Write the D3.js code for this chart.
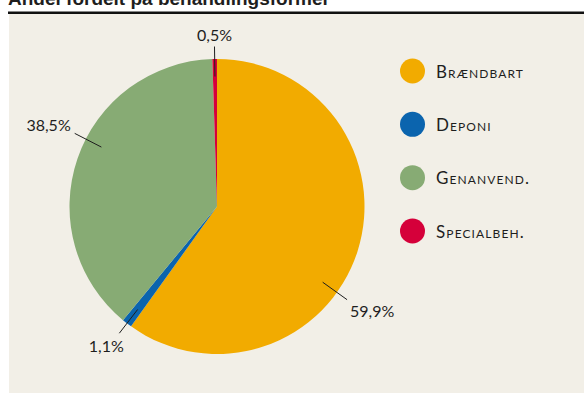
<!DOCTYPE html>
<html>
<head>
<meta charset="utf-8">
<script src="https://cdn.jsdelivr.net/npm/d3@7"></script>
<style>
  html, body { margin: 0; padding: 0; background: #ffffff; }
  svg { display: block; }
  text { font-family: Lato, "Open Sans", sans-serif; fill: #1e1e1e; }
</style>
</head>
<body>
<svg id="chart" width="584" height="394"></svg>
<script>
// Waste shares by treatment method (percent)
const categories = ["Brændbart", "Deponi", "Genanvend.", "Specialbeh."];
const shares = [59.9, 1.1, 38.5, 0.5];
const valueLabels = ["59,9%", "1,1%", "38,5%", "0,5%"];
const colors = ["#f2ab00", "#0b64ae", "#87ab74", "#d5003a"];

// Leader placement: angular shift from each slice's mid angle (degrees)
const leaderShift = [17.8, 0, 8.3, 0];
// Label offset from the outer end of each leader line
const labelOffset = [[3, 17, "start"], [-13, 19, "middle"], [-4, -2, "end"], [0, -6, "middle"]];

const svg = d3.select("#chart");
const W = 584;

// Title (sits partly above the top edge)
svg.append("text")
  .attr("x", 8).attr("y", 4.5)
  .style("font-family", "'Liberation Sans', Arial, sans-serif")
  .style("font-weight", "bold")
  .style("font-size", "19px")
  .attr("fill", "#111")
  .text("Andel fordelt på behandlingsformer");

// Panel and rule
svg.append("rect")
  .attr("x", 9).attr("y", 14).attr("width", W - 9).attr("height", 379)
  .attr("fill", "#f2efe7");
svg.append("rect")
  .attr("x", 8).attr("y", 11.5).attr("width", W - 8).attr("height", 2.5)
  .attr("fill", "#111");

// Pie
const cx = 217, cy = 206.5, R = 147.5;
const pie = d3.pie().sort(null).value(d => d);
const arcs = pie(shares);
const arc = d3.arc().innerRadius(0).outerRadius(R);

const g = svg.append("g").attr("transform", `translate(${cx},${cy})`);
g.selectAll("path.slice")
  .data(arcs)
  .join("path")
  .attr("class", "slice")
  .attr("d", arc)
  .attr("fill", (d, i) => colors[i]);

// Leader lines and value labels
const rIn = 130, rOut = 160;
arcs.forEach((d, i) => {
  const a = (d.startAngle + d.endAngle) / 2 + leaderShift[i] * Math.PI / 180;
  const p = r => [Math.sin(a) * r, -Math.cos(a) * r];
  const [x1, y1] = p(rIn), [x2, y2] = p(rOut);
  g.append("line")
    .attr("x1", x1).attr("y1", y1).attr("x2", x2).attr("y2", y2)
    .attr("stroke", "#1e1e1e").attr("stroke-width", 1);
  const [dx, dy, anchor] = labelOffset[i];
  g.append("text")
    .attr("x", x2 + dx).attr("y", y2 + dy)
    .attr("text-anchor", anchor)
    .style("font-size", "16px")
    .text(valueLabels[i]);
});

// Legend
const legendY = d3.scalePoint().domain(categories).range([71, 231]);
const legend = svg.append("g");
categories.forEach((c, i) => {
  const y = legendY(c);
  legend.append("circle")
    .attr("cx", 412.5).attr("cy", y).attr("r", 12.5)
    .attr("fill", colors[i]);
  legend.append("text")
    .attr("x", 436).attr("y", y + 6.5)
    .style("font-size", "17px")
    .style("font-variant", "small-caps")
    .style("letter-spacing", "1.1px")
    .text(c);
});
</script>
</body>
</html>
